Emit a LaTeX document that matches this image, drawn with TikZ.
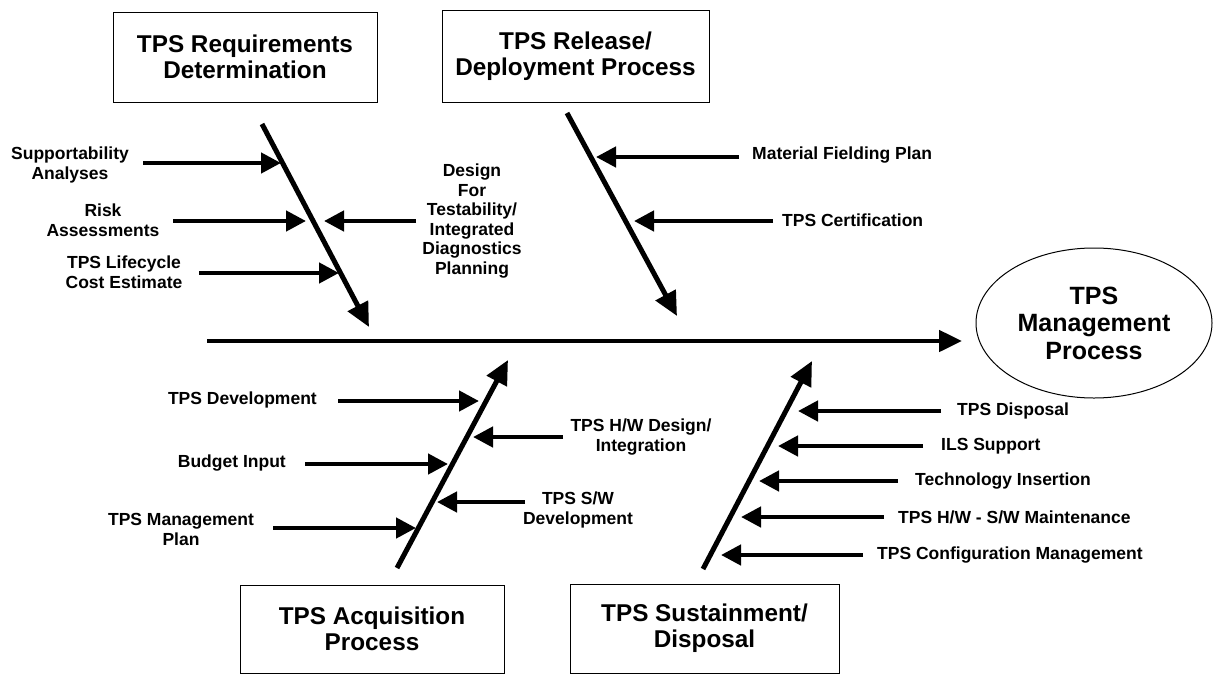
\documentclass[tikz,border=0pt]{standalone}
\usepackage{fontspec}
\setmainfont{Liberation Sans}
\usetikzlibrary{arrows.meta,shapes.geometric}
\begin{document}
\begin{tikzpicture}[x=1pt,y=-1pt,
  lbl/.style={font=\fontsize{17.5}{20}\selectfont\bfseries, align=center, inner sep=0pt},
  boxtitle/.style={draw, line width=1pt, font=\fontsize{24.3}{26}\selectfont\bfseries, align=center, inner sep=0pt},
  bone/.style={line width=5pt, -{Triangle[length=24pt,width=22pt]}},
  spine/.style={line width=4.8pt, -{Triangle[length=23pt,width=21pt]}},
  feed/.style={line width=4.5pt, -{Triangle[length=20pt,width=20pt]}}
]
\useasboundingbox (0,0) rectangle (1213,675);

% category boxes
\node[boxtitle, minimum width=264pt, minimum height=90pt] (req) at (245,57) {TPS Requirements\\Determination};
\node[boxtitle, minimum width=267pt, minimum height=92pt] (rel) at (575.5,56) {TPS Release/\\Deployment Process};
\node[boxtitle, minimum width=264pt, minimum height=88pt] (acq) at (372,629) {TPS Acquisition\\Process};
\node[boxtitle, minimum width=269pt, minimum height=89pt] (sus) at (704.5,628.5) {TPS Sustainment/\\Disposal};

% effect
\node[draw, ellipse, line width=1pt, minimum width=236pt, minimum height=150pt, inner sep=0pt,
      font=\fontsize{25}{27.5}\selectfont\bfseries, align=center] (tps) at (1094,323) {TPS\\Management\\Process};

% spine
\coordinate (sp0) at (207,341);
\coordinate (sp1) at (962,341);
\draw[spine] (sp0) -- (sp1);

% bones
\coordinate (b1s) at (262,124); \coordinate (b1e) at (369,327);
\coordinate (b2s) at (567,113); \coordinate (b2e) at (677,316);
\coordinate (b3s) at (397,568); \coordinate (b3e) at (508,360);
\coordinate (b4s) at (703,569); \coordinate (b4e) at (812,361);
\draw[bone] (b1s) -- (b1e);
\draw[bone] (b2s) -- (b2e);
\draw[bone] (b3s) -- (b3e);
\draw[bone] (b4s) -- (b4e);

% Requirements causes
\node[lbl] (sa) at (70,165) {Supportability\\Analyses};
\node[lbl] (ra) at (103,220) {Risk\\Assessments};
\node[lbl] (lc) at (124,272) {TPS Lifecycle\\Cost Estimate};
\node[lbl, font=\fontsize{17.5}{19.5}\selectfont\bfseries] (dft) at (472,221) {Design\\For\\Testability/\\Integrated\\Diagnostics\\Planning};
\coordinate (a1s) at (143,163); \coordinate (a1e) at (281,163);
\coordinate (a2s) at (173,221); \coordinate (a2e) at (306,221);
\coordinate (a3s) at (199,273); \coordinate (a3e) at (339,273);
\coordinate (a4s) at (416,221); \coordinate (a4e) at (324,221);
\draw[feed] (a1s) -- (a1e);
\draw[feed] (a2s) -- (a2e);
\draw[feed] (a3s) -- (a3e);
\draw[feed] (a4s) -- (a4e);

% Release causes
\node[lbl, anchor=west] (mfp) at (752,155) {Material Fielding Plan};
\node[lbl, anchor=west] (cert) at (782,220) {TPS Certification};
\coordinate (a5s) at (739,157); \coordinate (a5e) at (596,157);
\coordinate (a6s) at (773,221); \coordinate (a6e) at (634,221);
\draw[feed] (a5s) -- (a5e);
\draw[feed] (a6s) -- (a6e);

% Acquisition causes
\node[lbl, anchor=east] (dev) at (317,400) {TPS Development};
\node[lbl, anchor=east] (bud) at (286,463) {Budget Input};
\node[lbl] (mp) at (181,529) {TPS Management\\Plan};
\node[lbl] (hw) at (641,437) {TPS H/W Design/\\Integration};
\node[lbl] (sw) at (578,510) {TPS S/W\\Development};
\coordinate (a7s) at (338,401); \coordinate (a7e) at (479,401);
\coordinate (a8s) at (305,464); \coordinate (a8e) at (448,464);
\coordinate (a9s) at (273,528); \coordinate (a9e) at (416,528);
\coordinate (a10s) at (563,437); \coordinate (a10e) at (473,437);
\coordinate (a11s) at (525,502); \coordinate (a11e) at (437,502);
\draw[feed] (a7s) -- (a7e);
\draw[feed] (a8s) -- (a8e);
\draw[feed] (a9s) -- (a9e);
\draw[feed] (a10s) -- (a10e);
\draw[feed] (a11s) -- (a11e);

% Sustainment causes
\node[lbl, anchor=west] (disp) at (957,411) {TPS Disposal};
\node[lbl, anchor=west] (ils) at (941,446) {ILS Support};
\node[lbl, anchor=west] (tech) at (915,481) {Technology Insertion};
\node[lbl, anchor=west] (mnt) at (898,517) {TPS H/W - S/W Maintenance};
\node[lbl, anchor=west] (cfg) at (877,555) {TPS Configuration Management};
\coordinate (a12s) at (941,411); \coordinate (a12e) at (798,411);
\coordinate (a13s) at (923,446); \coordinate (a13e) at (778,446);
\coordinate (a14s) at (898,481); \coordinate (a14e) at (759,481);
\coordinate (a15s) at (884,517); \coordinate (a15e) at (741,517);
\coordinate (a16s) at (863,555); \coordinate (a16e) at (721,555);
\draw[feed] (a12s) -- (a12e);
\draw[feed] (a13s) -- (a13e);
\draw[feed] (a14s) -- (a14e);
\draw[feed] (a15s) -- (a15e);
\draw[feed] (a16s) -- (a16e);
\end{tikzpicture}
\end{document}
